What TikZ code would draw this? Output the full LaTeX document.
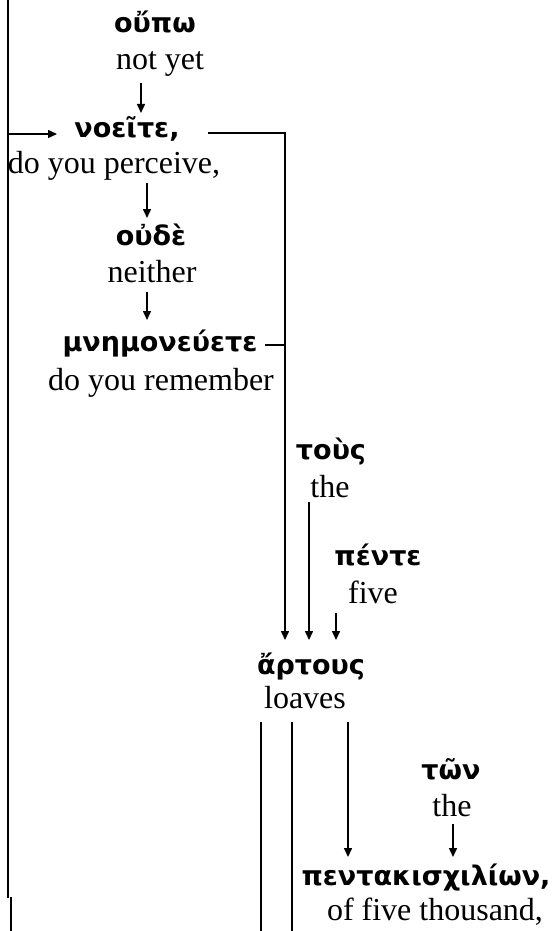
\documentclass[tikz,border=0pt]{standalone}
\usepackage{fontspec}
\setmainfont{Liberation Serif}
\newfontfamily\grk{DejaVu Sans}
\usetikzlibrary{arrows.meta}
\tikzset{
  gr/.style={inner sep=0pt, anchor=base, font=\grk\bfseries\fontsize{27}{30}\selectfont},
  en/.style={inner sep=0pt, anchor=base, font=\fontsize{32}{38}\selectfont},
  ln/.style={line width=1.5pt},
  arr/.style={line width=1.5pt, -{Triangle[length=9pt,width=8pt]}},
}
\begin{document}
\begin{tikzpicture}[x=1pt,y=-1pt]
\useasboundingbox (0,0) rectangle (555,931);
% words
\node[gr] (oupo) at (155,33) {οὔπω};
\node[en] (notyet) at (160,70) {not yet};
\node[gr] (noeite) at (127,138) {νοεῖτε,};
\node[en] (perceive) at (114,173) {do you perceive,};
\node[gr] (oude) at (151,245) {οὐδὲ};
\node[en] (neither) at (152,282) {neither};
\node[gr] (mnem) at (160,351) {μνημονεύετε};
\node[en] (remember) at (161,390) {do you remember};
\node[gr] (tous) at (331,459) {τοὺς};
\node[en] (the1) at (330,497) {the};
\node[gr] (pente) at (378,565) {πέντε};
\node[en] (five) at (373,603) {five};
\node[gr] (artous) at (311,674) {ἄρτους};
\node[en] (loaves) at (305,708) {loaves};
\node[gr] (ton) at (451,779) {τῶν};
\node[en] (the2) at (452,816) {the};
\node[gr] (penta) at (426,885) {πεντακισχιλίων,};
\node[en] (thousand) at (435,920) {of five thousand,};
% connector end points
\coordinate (lt) at (8,0);
\coordinate (lb) at (8,898);
\coordinate (sb1) at (11,897);
\coordinate (sb2) at (11,931);
\coordinate (la) at (8,134);
\coordinate (lae) at (57,134);
\coordinate (a1s) at (141,83);
\coordinate (a1e) at (141,113);
\coordinate (a2s) at (147,183);
\coordinate (a2e) at (147,218);
\coordinate (a3s) at (147,292);
\coordinate (a3e) at (147,320);
\coordinate (ns) at (208,133);
\coordinate (nc) at (285,133);
\coordinate (ms) at (265,345);
\coordinate (me) at (285,345);
\coordinate (rt) at (285,640);
\coordinate (ts) at (309,502);
\coordinate (te) at (309,640);
\coordinate (ps) at (336,613);
\coordinate (pe) at (336,640);
\coordinate (b1s) at (261,722);
\coordinate (b1e) at (261,931);
\coordinate (b2s) at (292,722);
\coordinate (b2e) at (292,931);
\coordinate (b3s) at (348,722);
\coordinate (b3e) at (348,857);
\coordinate (ws) at (453,824);
\coordinate (we) at (453,857);
% connectors
\draw[ln] (lt) -- (lb);
\draw[ln] (sb1) -- (sb2);
\draw[arr] (la) -- (lae);
\draw[arr] (a1s) -- (a1e);
\draw[arr] (a2s) -- (a2e);
\draw[arr] (a3s) -- (a3e);
\draw[arr] (ns) -- (nc) -- (rt);
\draw[ln] (ms) -- (me);
\draw[arr] (ts) -- (te);
\draw[arr] (ps) -- (pe);
\draw[ln] (b1s) -- (b1e);
\draw[ln] (b2s) -- (b2e);
\draw[arr] (b3s) -- (b3e);
\draw[arr] (ws) -- (we);
\end{tikzpicture}
\end{document}
